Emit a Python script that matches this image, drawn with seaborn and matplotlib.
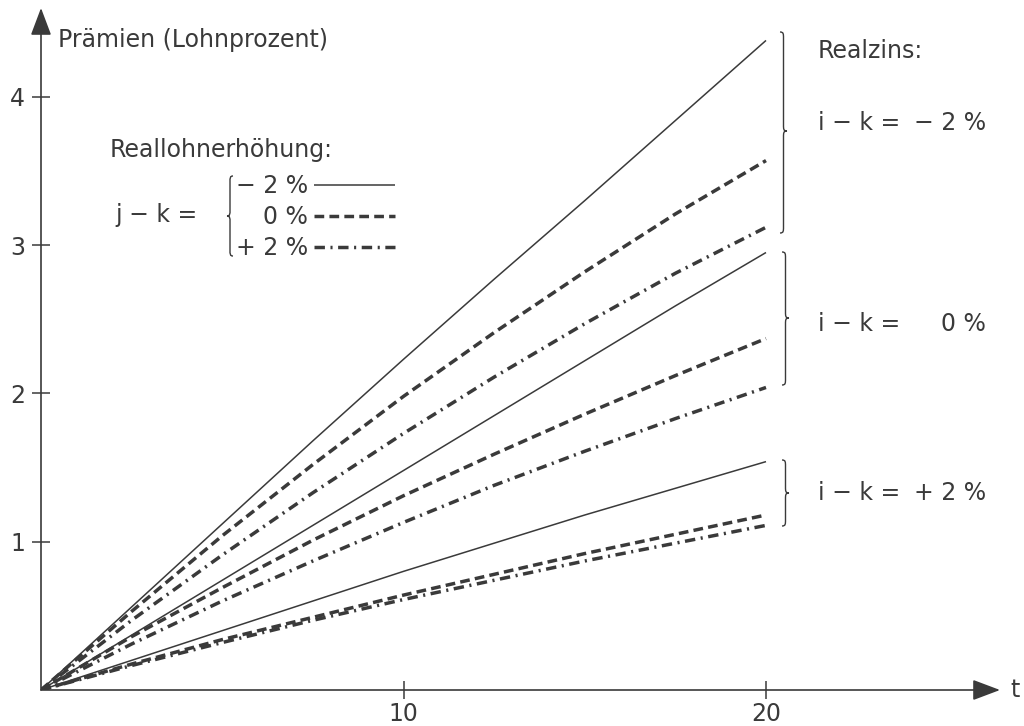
import matplotlib
matplotlib.use("Agg")
import matplotlib.pyplot as plt
import numpy as np
import pandas as pd
import seaborn as sns
from matplotlib.path import Path
from matplotlib.patches import PathPatch
from matplotlib.lines import Line2D

# ---------------- data ----------------
t = [0, 2.5, 5, 7.5, 10, 12.5, 15, 17.5, 20]
# Realzins i-k = -2 %
rz_m2_lohn_m2 = [0, 0.56, 1.12, 1.68, 2.23, 2.77, 3.30, 3.84, 4.38]
rz_m2_lohn_0 = [0, 0.53, 1.04, 1.52, 1.98, 2.41, 2.82, 3.21, 3.57]
rz_m2_lohn_p2 = [0, 0.47, 0.91, 1.33, 1.73, 2.11, 2.47, 2.81, 3.12]
# Realzins i-k = 0 %
rz_0_lohn_m2 = [0, 0.37, 0.74, 1.11, 1.48, 1.85, 2.22, 2.59, 2.95]
rz_0_lohn_0 = [0, 0.36, 0.69, 1.01, 1.31, 1.59, 1.86, 2.12, 2.37]
rz_0_lohn_p2 = [0, 0.31, 0.60, 0.87, 1.13, 1.38, 1.61, 1.83, 2.04]
# Realzins i-k = +2 %
rz_p2_lohn_m2 = [0, 0.20, 0.40, 0.60, 0.80, 0.99, 1.18, 1.36, 1.54]
rz_p2_lohn_0 = [0, 0.175, 0.34, 0.49, 0.64, 0.78, 0.92, 1.05, 1.18]
rz_p2_lohn_p2 = [0, 0.165, 0.32, 0.47, 0.61, 0.74, 0.87, 0.99, 1.11]

realzins_labels = ["−2", "0", "+2"]
reallohn_labels = ["−2", "0", "+2"]
x_ticks = [10, 20]
y_ticks = [1, 2, 3, 4]

series = {
    ("−2", "−2"): rz_m2_lohn_m2, ("−2", "0"): rz_m2_lohn_0, ("−2", "+2"): rz_m2_lohn_p2,
    ("0", "−2"): rz_0_lohn_m2, ("0", "0"): rz_0_lohn_0, ("0", "+2"): rz_0_lohn_p2,
    ("+2", "−2"): rz_p2_lohn_m2, ("+2", "0"): rz_p2_lohn_0, ("+2", "+2"): rz_p2_lohn_p2,
}
rows = []
for (rz, rl), vals in series.items():
    for tt, v in zip(t, vals):
        rows.append({"t": tt, "p": v, "realzins": rz, "reallohn": rl})
df = pd.DataFrame(rows)

# ---------------- style ----------------
sns.set_style("white")
plt.rcParams["font.family"] = ["DejaVu Sans"]
INK = "#3a3a3a"
LW_SOLID = 1.1
LW_DASH = 2.5
DASH = (2.8, 1.5)
DASHDOT = (3.0, 1.6, 0.6, 1.6)
FS = 17

W, H = 1024, 726
fig = plt.figure(figsize=(W / 100, H / 100), dpi=100)
fig.patch.set_facecolor("white")
ax = fig.add_axes([41 / W, 1 - 690 / H, 959 / W, 682 / H])
ax.set_xlim(0, 959 / 36.25)
ax.set_ylim(0, 682 / 148.3)

sns.lineplot(data=df, x="t", y="p", style="reallohn", units="realzins",
             estimator=None, sort=False, color=INK, legend=False, ax=ax,
             style_order=reallohn_labels,
             dashes={"−2": "", "0": DASH, "+2": DASHDOT})
for ln in ax.lines:
    if ln.get_linestyle() == "-":
        ln.set_linewidth(LW_SOLID)
    else:
        ln.set_linewidth(LW_DASH)
    ln.set_solid_capstyle("butt")
    ln.set_dash_capstyle("butt")
    ln.set_solid_joinstyle("round")

for s in ax.spines.values():
    s.set_visible(False)
ax.set_xlabel("")
ax.set_ylabel("")
ax.set_xticks(x_ticks)
ax.set_yticks(y_ticks)
ax.set_xticklabels([str(v) for v in x_ticks])
ax.set_yticklabels([str(v) for v in y_ticks])
ax.tick_params(axis="both", direction="inout", length=13, width=1.1, color=INK,
               labelsize=FS, labelcolor=INK, bottom=True, left=True)
ax.tick_params(axis="x", pad=2)
ax.tick_params(axis="y", pad=5)

arrow = dict(arrowstyle="-|>,head_length=0.85,head_width=0.32", mutation_scale=20,
             lw=1.2, color=INK, shrinkA=0, shrinkB=0)
ax.annotate("", xy=(1, 0), xytext=(0, 0), xycoords="axes fraction", arrowprops=arrow)
ax.annotate("", xy=(0, 1), xytext=(0, 0), xycoords="axes fraction", arrowprops=arrow)


def P(px, py):
    return (px / W, 1 - py / H)


def ftext(px, py, s, ha="left", va="baseline", size=FS):
    x, y = P(px, py)
    fig.text(x, y, s, ha=ha, va=va, fontsize=size, color=INK)


def brace(x, y0, y1, ym, w, d=1):
    """curly brace in pixel coords; d=1 tip to the right, d=-1 tip to the left"""
    xm = x + d * w * 0.5
    xt = x + d * w
    r0 = min(6, (ym - y0) / 3)
    r1 = min(6, (y1 - ym) / 3)
    verts = [
        (x, y0), (xm, y0), (xm, y0 + r0 * 0.3), (xm, y0 + r0),
        (xm, ym - r0),
        (xm, ym - r0 * 0.3), (xm, ym), (xt, ym),
        (xm, ym), (xm, ym + r1 * 0.3), (xm, ym + r1),
        (xm, y1 - r1),
        (xm, y1 - r1 * 0.3), (xm, y1), (x, y1),
    ]
    codes = [Path.MOVETO, Path.CURVE4, Path.CURVE4, Path.CURVE4,
             Path.LINETO,
             Path.CURVE4, Path.CURVE4, Path.CURVE4,
             Path.CURVE4, Path.CURVE4, Path.CURVE4,
             Path.LINETO,
             Path.CURVE4, Path.CURVE4, Path.CURVE4]
    path = Path([P(*v) for v in verts], codes)
    fig.add_artist(PathPatch(path, transform=fig.transFigure, fill=False,
                             edgecolor=INK, lw=1.0))


# axis titles
ftext(58, 47, "Prämien (Lohnprozent)")
ftext(1010, 690, "t", va="center")

# legend block
ftext(110, 157, "Reallohnerhöhung:")
ftext(115, 222, "j − k =")
brace(233, 176, 256, 216, 6, d=-1)
leg_y = [185, 216, 247]
leg_base = [193, 224, 255]
leg_txt = ["− 2 %", "0 %", "+ 2 %"]
leg_styles = [dict(lw=LW_SOLID), dict(lw=LW_DASH, linestyle=(0, DASH)),
              dict(lw=LW_DASH, linestyle=(0, DASHDOT))]
for yy, yb, s, st in zip(leg_y, leg_base, leg_txt, leg_styles):
    ftext(308, yb, s, ha="right")
    x0, y0 = P(314, yy)
    x1, _ = P(395, yy)
    fig.add_artist(Line2D([x0, x1], [y0, y0], transform=fig.transFigure,
                          color=INK, solid_capstyle="butt", dash_capstyle="butt", **st))

# right-hand annotations
ftext(818, 58, "Realzins:")
brace(780, 32, 233, 131, 7, d=1)
brace(782, 252, 385, 318, 7, d=1)
brace(782, 460, 526, 493, 7, d=1)
for yb, s in zip([130, 331, 500], ["− 2 %", "0 %", "+ 2 %"]):
    ftext(818, yb, "i − k =")
    ftext(986, yb, s, ha="right")

fig.savefig("out.png", dpi=100, facecolor="white")
